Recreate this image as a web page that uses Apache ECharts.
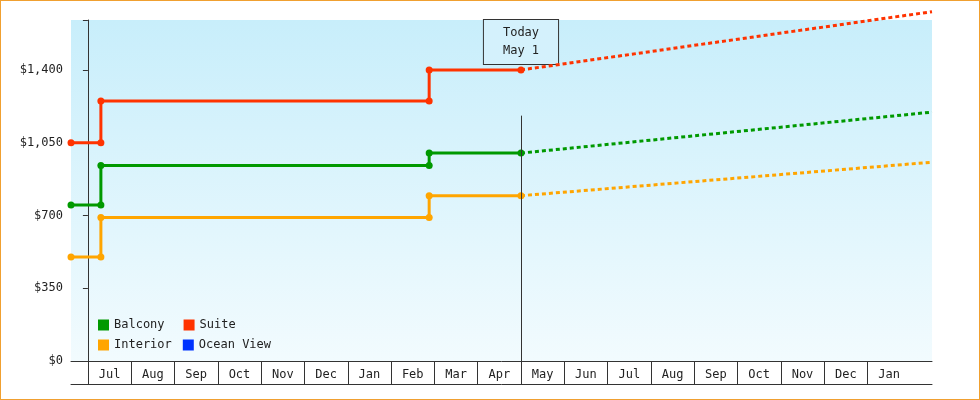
<!DOCTYPE html><html><head><meta charset="utf-8">
<script src="https://cdn.jsdelivr.net/npm/echarts@6/dist/echarts.min.js"></script>
<style>html,body{margin:0;padding:0;background:#fff}#c{width:978px;height:398px;border:1px solid #f0a030}</style>
</head><body><div id="c"></div><script>
const monthLabels=['Jul','Aug','Sep','Oct','Nov','Dec','Jan','Feb','Mar','Apr','May','Jun','Jul','Aug','Sep','Oct','Nov','Dec','Jan'];
const yTicks=[0,350,700,1050,1400];
// x in months since Jul 1 of first year
const balconyX=[-0.39,0.3,0.3,7.88,7.88,10], balconyY=[750,750,940,940,1000,1000];
const suiteX=[-0.39,0.3,0.3,7.88,7.88,10], suiteY=[1050,1050,1250,1250,1400,1400];
const interiorX=[-0.39,0.3,0.3,7.88,7.88,10], interiorY=[500,500,690,690,795,795];
const projX=[10,19.49];
const balconyProj=[1000,1197], suiteProj=[1400,1680], interiorProj=[795,956];
const todayX=10;
const colors={Balcony:'#009900',Suite:'#ff3300',Interior:'#ffa500','Ocean View':'#0033ff'};
const font='DejaVu Sans Mono';
const zip=(a,b)=>a.map((v,i)=>[v,b[i]]);
function solid(name,x,y){return {name,type:'line',data:zip(x,y),color:colors[name],symbol:'circle',symbolSize:7,
 lineStyle:{width:3},itemStyle:{color:colors[name]},clip:false,z:3};}
function dash(name,y){return {name:name+' proj',type:'line',data:zip(projX,y),color:colors[name],symbol:'none',
 lineStyle:{width:3,type:[4,3]},clip:false,z:2};}
const chart=echarts.init(document.getElementById('c'));
const xmin=-0.39,xmax=19.49;
chart.setOption({
 animation:false,
 textStyle:{fontFamily:font},
 grid:{left:70,right:47,top:19,bottom:38,show:true,borderWidth:0,
  backgroundColor:new echarts.graphic.LinearGradient(0,0,0,1,[{offset:0,color:'#c8eefb'},{offset:1,color:'#f2fbfe'}])},
 xAxis:[{type:'value',min:xmin,max:xmax,splitLine:{show:false},
   axisLine:{lineStyle:{color:'#333'}},
   axisTick:{customValues:monthLabels.map((m,i)=>i),length:23,lineStyle:{color:'#333'}},
   axisLabel:{customValues:monthLabels.map((m,i)=>i+0.5),formatter:v=>monthLabels[Math.floor(v)],color:'#222',fontFamily:font,fontSize:12,margin:8}},
  {type:'value',min:xmin,max:xmax,position:'bottom',offset:23,axisLine:{lineStyle:{color:'#333'}},axisTick:{show:false},axisLabel:{show:false},splitLine:{show:false}}],
 yAxis:{type:'value',min:0,max:1640,interval:350,splitLine:{show:false},
  axisLine:{show:true,lineStyle:{color:'#333'}},axisTick:{show:true,length:5,lineStyle:{color:'#333'}},
  axisLabel:{color:'#222',fontFamily:font,fontSize:12,formatter:v=>yTicks.includes(v)?'$'+v.toLocaleString('en-US'):''}},
 legend:[{data:['Balcony','Suite'],left:92,top:313,itemWidth:11,itemHeight:11,icon:'rect',itemGap:19,textStyle:{fontFamily:font,fontSize:12,color:'#222'}},
  {data:['Interior','Ocean View'],left:92,top:333,itemWidth:11,itemHeight:11,icon:'rect',itemGap:11,textStyle:{fontFamily:font,fontSize:12,color:'#222'}}],
 series:[solid('Balcony',balconyX,balconyY),solid('Suite',suiteX,suiteY),solid('Interior',interiorX,interiorY),
  {name:'Ocean View',type:'line',data:[],color:colors['Ocean View']},
  dash('Balcony',balconyProj),dash('Suite',suiteProj),dash('Interior',interiorProj),
  {type:'line',data:[],markLine:{symbol:'none',silent:true,lineStyle:{color:'#333',width:1,type:'solid'},label:{show:false},
   data:[[{coord:[todayX,0]},{coord:[todayX,1180]}]]}}]
});
const p=chart.convertToPixel({gridIndex:0},[todayX,1640]);
chart.setOption({graphic:[{type:'text',x:p[0],y:p[1],style:{text:'Today\nMay 1',font:'12px '+font,fill:'#222',align:'center',verticalAlign:'top',
 padding:[4,19,4,19],lineHeight:18,backgroundColor:'#d4f1fc',borderColor:'#333',borderWidth:1}}]});
</script></body></html>
